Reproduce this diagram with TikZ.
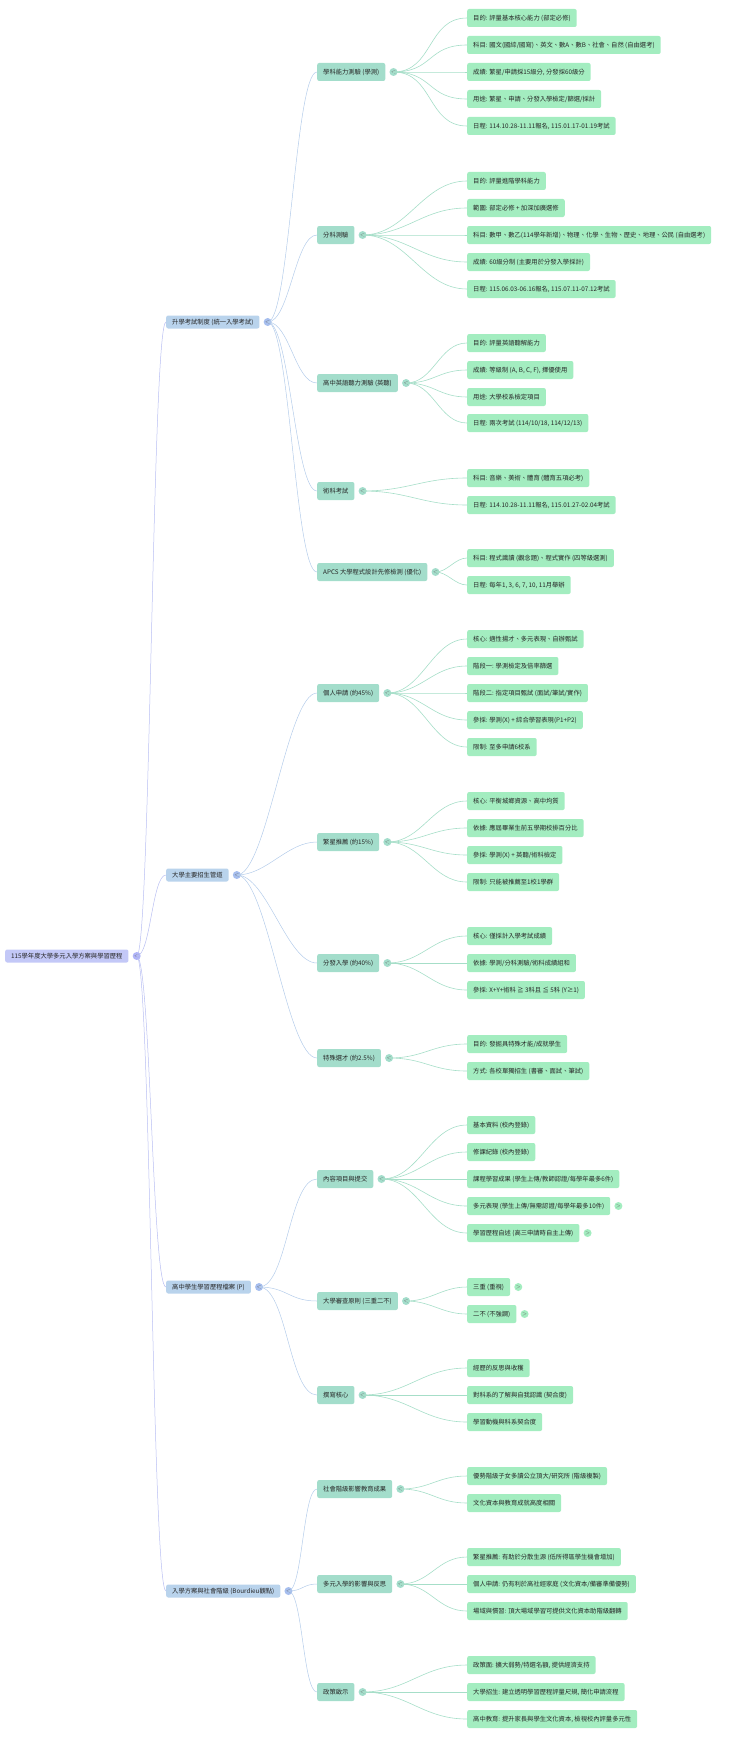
\documentclass[tikz,border=0pt]{standalone}
\usepackage{fontspec}
\setmainfont{Noto Sans CJK TC}
\begin{document}
\definecolor{rootc}{HTML}{C3C8F7}
\definecolor{onec}{HTML}{B9D3EC}
\definecolor{twoc}{HTML}{A3DDCB}
\definecolor{leafc}{HTML}{A3EDC0}
\definecolor{rootl}{HTML}{B8BEF2}
\definecolor{onel}{HTML}{B4CCEA}
\definecolor{twol}{HTML}{A6DEC8}
\begin{tikzpicture}[x=1pt,y=1pt,
  base/.style={anchor=west,rounded corners=2pt,inner xsep=6pt,inner ysep=0pt,font=\fontsize{6.3}{7}\selectfont,text=black!85},
  root/.style={base,fill=rootc,minimum height=13pt},
  one/.style={base,fill=onec,minimum height=13pt},
  two/.style={base,fill=twoc,minimum height=18pt},
  leaf/.style={base,fill=leafc,minimum height=18pt},
  dot/.style={circle,inner sep=0pt,minimum size=8pt,font=\fontsize{4}{4}\selectfont,text=black!60},
  dotroot/.style={dot,fill=rootc!90!blue},
  dotone/.style={dot,fill=onec!90!blue},
  dottwo/.style={dot,fill=twoc},
  dotleaf/.style={dot,fill=leafc},
  e0/.style={draw=rootl,line width=0.5pt},
  e1/.style={draw=onel,line width=0.5pt},
  e2/.style={draw=twol,line width=0.6pt}]
\useasboundingbox (0,0) rectangle (740,-1739);
\newcommand\mk[5]{\node[#1](#2) at (#3,-#4){#5};\path (#2.east) ++(8,0) node[dot#1](#2c){$<$};}
\newcommand\lf[4]{\node[leaf](#1) at (#2,-#3){#4};}
\newcommand\ed[4]{\draw[#1] (#2c.center) .. controls +(#4,0) and +(-#4,0) .. (#3.west);}
% root
\mk{root}{r}{5}{956}{115學年度大學多元入學方案與學習歷程}
% level 1
\mk{one}{a}{166}{322}{升學考試制度 (統一入學考試)}
\mk{one}{b}{166}{875}{大學主要招生管道}
\mk{one}{c}{166}{1287}{高中學生學習歷程檔案 (P)}
\mk{one}{d}{166}{1591}{入學方案與社會階級 (Bourdieu觀點)}
\foreach \t in {a,b,c,d}{\ed{e0}{r}{\t}{14}}
% level 2
\mk{two}{a1}{317}{72}{學科能力測驗 (學測)}
\mk{two}{a2}{317}{235}{分科測驗}
\mk{two}{a3}{317}{383}{高中英語聽力測驗 (英聽)}
\mk{two}{a4}{317}{491}{術科考試}
\mk{two}{a5}{317}{572}{APCS 大學程式設計先修檢測 (優化)}
\mk{two}{b1}{317}{693}{個人申請 (約45\%)}
\mk{two}{b2}{317}{842}{繁星推薦 (約15\%)}
\mk{two}{b3}{317}{963}{分發入學 (約40\%)}
\mk{two}{b4}{317}{1058}{特殊選才 (約2.5\%)}
\mk{two}{c1}{317}{1179}{內容項目與提交}
\mk{two}{c2}{317}{1301}{大學審查原則 (三重二不)}
\mk{two}{c3}{317}{1395}{撰寫核心}
\mk{two}{d1}{317}{1489}{社會階級影響教育成果}
\mk{two}{d2}{317}{1584}{多元入學的影響與反思}
\mk{two}{d3}{317}{1692}{政策啟示}
\foreach \t in {a1,a2,a3,a4,a5}{\ed{e1}{a}{\t}{22}}
\foreach \t in {b1,b2,b3,b4}{\ed{e1}{b}{\t}{30}}
\foreach \t in {c1,c2,c3}{\ed{e1}{c}{\t}{28}}
\foreach \t in {d1,d2,d3}{\ed{e1}{d}{\t}{14}}
% leaves
\lf{a1a}{467}{18}{目的: 評量基本核心能力 (部定必修)}
\lf{a1b}{467}{45}{科目: 國文(國綜/國寫)、英文、數A、數B、社會、自然 (自由選考)}
\lf{a1c'}{467}{72}{成績: 繁星/申請採15級分, 分發採60級分}
\lf{a1d}{467}{99}{用途: 繁星、申請、分發入學檢定/篩選/採計}
\lf{a1e}{467}{126}{日程: 114.10.28-11.11報名, 115.01.17-01.19考試}
\foreach \t in {a1a,a1b,a1c',a1d,a1e}{\ed{e2}{a1}{\t}{40}}
\lf{a2a}{467}{181}{目的: 評量進階學科能力}
\lf{a2b}{467}{208}{範圍: 部定必修 + 加深加廣選修}
\lf{a2c'}{467}{235}{科目: 數甲、數乙(114學年新增)、物理、化學、生物、歷史、地理、公民 (自由選考)}
\lf{a2d}{467}{262}{成績: 60級分制 (主要用於分發入學採計)}
\lf{a2e}{467}{289}{日程: 115.06.03-06.16報名, 115.07.11-07.12考試}
\foreach \t in {a2a,a2b,a2c',a2d,a2e}{\ed{e2}{a2}{\t}{45}}
\lf{a3a}{467}{343}{目的: 評量英語聽解能力}
\lf{a3b}{467}{370}{成績: 等級制 (A, B, C, F), 擇優使用}
\lf{a3c'}{467}{397}{用途: 大學校系檢定項目}
\lf{a3d}{467}{423}{日程: 兩次考試 (114/10/18, 114/12/13)}
\foreach \t in {a3a,a3b,a3c',a3d}{\ed{e2}{a3}{\t}{28}}
\lf{a4a}{467}{478}{科目: 音樂、美術、體育 (體育五項必考)}
\lf{a4b}{467}{505}{日程: 114.10.28-11.11報名, 115.01.27-02.04考試}
\foreach \t in {a4a,a4b}{\ed{e2}{a4}{\t}{45}}
\lf{a5a}{467}{558}{科目: 程式識讀 (觀念題)、程式實作 (四等級選測)}
\lf{a5b}{467}{585}{日程: 每年1, 3, 6, 7, 10, 11月舉辦}
\foreach \t in {a5a,a5b}{\ed{e2}{a5}{\t}{12}}
\lf{b1a}{467}{639}{核心: 適性揚才、多元表現、自辦甄試}
\lf{b1b}{467}{666}{階段一: 學測檢定及倍率篩選}
\lf{b1c'}{467}{693}{階段二: 指定項目甄試 (面試/筆試/實作)}
\lf{b1d}{467}{720}{參採: 學測(X) + 綜合學習表現(P1+P2)}
\lf{b1e}{467}{747}{限制: 至多申請6校系}
\foreach \t in {b1a,b1b,b1c',b1d,b1e}{\ed{e2}{b1}{\t}{35}}
\lf{b2a}{467}{801}{核心: 平衡城鄉資源、高中均質}
\lf{b2b}{467}{828}{依據: 應屆畢業生前五學期校排百分比}
\lf{b2c'}{467}{855}{參採: 學測(X) + 英聽/術科檢定}
\lf{b2d}{467}{882}{限制: 只能被推薦至1校1學群}
\foreach \t in {b2a,b2b,b2c',b2d}{\ed{e2}{b2}{\t}{35}}
\lf{b3a}{467}{936}{核心: 僅採計入學考試成績}
\lf{b3b}{467}{963}{依據: 學測/分科測驗/術科成績組和}
\lf{b3c'}{467}{990}{參採: X+Y+術科 ≧ 3科且 ≦ 5科 (Y≥1)}
\foreach \t in {b3a,b3b,b3c'}{\ed{e2}{b3}{\t}{35}}
\lf{b4a}{467}{1044}{目的: 發掘具特殊才能/成就學生}
\lf{b4b}{467}{1071}{方式: 各校單獨招生 (書審、面試、筆試)}
\foreach \t in {b4a,b4b}{\ed{e2}{b4}{\t}{35}}
\lf{c1a}{467}{1125}{基本資料 (校內登錄)}
\lf{c1b}{467}{1152}{修課紀錄 (校內登錄)}
\lf{c1c'}{467}{1179}{課程學習成果 (學生上傳/教師認證/每學年最多6件)}
\lf{c1d}{467}{1206}{多元表現 (學生上傳/無需認證/每學年最多10件)}
\lf{c1e}{467}{1233}{學習歷程自述 (高三申請時自主上傳)}
\foreach \t in {c1a,c1b,c1c',c1d,c1e}{\ed{e2}{c1}{\t}{38}}
\lf{c2a}{467}{1287}{三重 (重視)}
\lf{c2b}{467}{1314}{二不 (不強調)}
\foreach \t in {c2a,c2b}{\ed{e2}{c2}{\t}{25}}
\foreach \t in {c1d,c1e,c2a,c2b}{\path (\t.east) ++(8,0) node[dotleaf]{$>$};}
\lf{c3a}{467}{1368}{經歷的反思與收穫}
\lf{c3b}{467}{1395}{對科系的了解與自我認識 (契合度)}
\lf{c3c'}{467}{1422}{學習動機與科系契合度}
\foreach \t in {c3a,c3b,c3c'}{\ed{e2}{c3}{\t}{45}}
\lf{d1a}{467}{1476}{優勢階級子女多讀公立頂大/研究所 (階級複製)}
\lf{d1b}{467}{1503}{文化資本與教育成就高度相關}
\foreach \t in {d1a,d1b}{\ed{e2}{d1}{\t}{30}}
\lf{d2a}{467}{1557}{繁星推薦: 有助於分散生源 (低所得區學生機會增加)}
\lf{d2b}{467}{1584}{個人申請: 仍有利於高社經家庭 (文化資本/備審準備優勢)}
\lf{d2c'}{467}{1611}{場域與慣習: 頂大場域學習可提供文化資本助階級翻轉}
\foreach \t in {d2a,d2b,d2c'}{\ed{e2}{d2}{\t}{30}}
\lf{d3a}{467}{1665}{政策面: 擴大弱勢/特選名額, 提供經濟支持}
\lf{d3b}{467}{1692}{大學招生: 建立透明學習歷程評量尺規, 簡化申請流程}
\lf{d3c'}{467}{1719}{高中教育: 提升家長與學生文化資本, 檢視校內評量多元性}
\foreach \t in {d3a,d3b,d3c'}{\ed{e2}{d3}{\t}{45}}
\end{tikzpicture}
\end{document}
